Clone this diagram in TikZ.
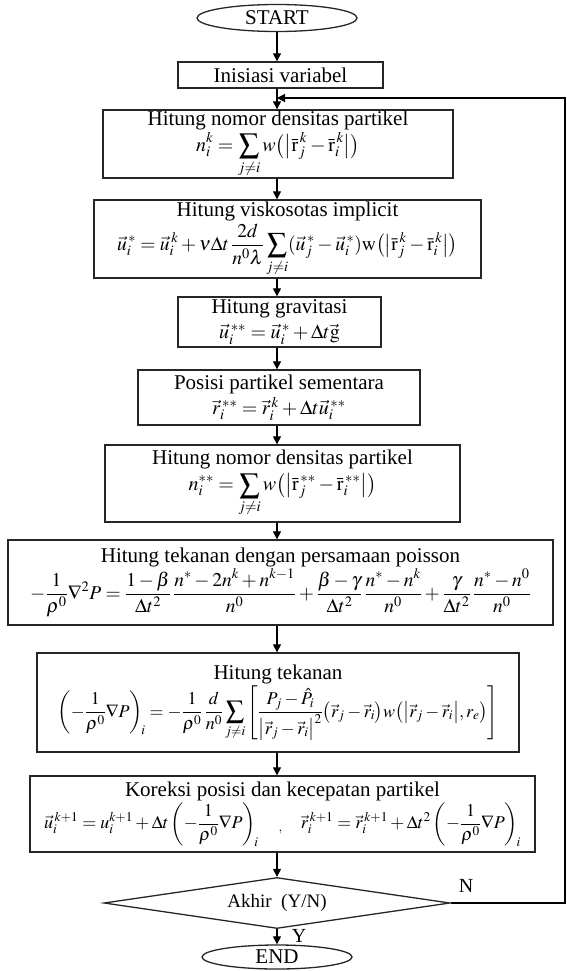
\documentclass[tikz,border=0pt]{standalone}
\usepackage{mathptmx}
\usepackage{amsmath}
\usepackage[no-math]{fontspec}
\setmainfont{Liberation Serif}
\usetikzlibrary{shapes.geometric,arrows.meta}
\newcommand{\ttl}{\fontsize{21}{24}\selectfont}
\newcommand{\mth}[1]{\fontsize{#1}{#1}\selectfont}
\begin{document}
\begin{tikzpicture}[x=1pt,y=-1pt,
  box/.style={draw=black!85, line width=1.3pt, rectangle, align=center, inner sep=0pt, font=\ttl},
  term/.style={draw=black!85, line width=1.3pt, ellipse, inner sep=0pt, font=\fontsize{21}{24}\selectfont},
  decbox/.style={draw=black!85, line width=1.3pt, diamond, aspect=6.8, inner sep=0pt, font=\fontsize{19}{22}\selectfont},
  arr/.style={line width=1.2pt, -{Triangle[length=8pt,width=8pt]}},
  lbl/.style={font=\fontsize{20}{24}\selectfont, inner sep=0pt}]
\useasboundingbox (0,0) rectangle (566,971);

\node[term, minimum width=160, minimum height=27] (start) at (277,18) {START};
\node[box, minimum width=205, minimum height=26] (init) at (280.5,75) {Inisiasi variabel};
\node[box, minimum width=350, minimum height=68] (dens1) at (278,144)
  {Hitung nomor densitas partikel\\[2pt]
   \mth{20}$\displaystyle n_i^k=\sum\limits_{j\neq i} w\bigl(\bigl|\bar{\mathrm{r}}_j^{\,k}-\bar{\mathrm{r}}_i^{\,k}\bigr|\bigr)$};
\node[box, minimum width=387, minimum height=78] (visk) at (287.5,239)
  {Hitung viskosotas implicit\\[2pt]
   \mth{19.5}$\displaystyle \vec{u}_i^{\,*}=\vec{u}_i^{\,k}+\nu\Delta t\,\frac{2d}{n^0\lambda}\sum\limits_{j\neq i}(\vec{u}_j^{\,*}-\vec{u}_i^{\,*})\mathrm{w}\bigl(\bigl|\bar{\mathrm{r}}_j^{\,k}-\bar{\mathrm{r}}_i^{\,k}\bigr|\bigr)$};
\node[box, minimum width=203, minimum height=50] (grav) at (279.5,322)
  {Hitung gravitasi\\[1pt]
   \mth{20}$\vec{u}_i^{\,**}=\vec{u}_i^{\,*}+\Delta t\vec{\mathrm{g}}$};
\node[box, minimum width=282, minimum height=55] (pos) at (279,397.5)
  {Posisi partikel sementara\\[1pt]
   \mth{20}$\vec{r}_i^{\,**}=\vec{r}_i^{\,k}+\Delta t\vec{u}_i^{\,**}$};
\node[box, minimum width=355, minimum height=77] (dens2) at (282.5,483.5)
  {Hitung nomor densitas partikel\\[2pt]
   \mth{20}$\displaystyle n_i^{**}=\sum\limits_{j\neq i} w\bigl(\bigl|\bar{\mathrm{r}}_j^{\,**}-\bar{\mathrm{r}}_i^{\,**}\bigr|\bigr)$};
\node[box, minimum width=545, minimum height=85] (pois) at (280.5,582.5)
  {Hitung tekanan dengan persamaan poisson\\[1pt]
   \mth{19.5}$\displaystyle -\frac{1}{\rho^0}\nabla^2P=\frac{1-\beta}{\Delta t^2}\,\frac{n^*-2n^k+n^{k-1}}{n^0}+\frac{\beta-\gamma}{\Delta t^2}\,\frac{n^*-n^k}{n^0}+\frac{\gamma}{\Delta t^2}\,\frac{n^*-n^0}{n^0}$};
\node[box, minimum width=482, minimum height=99] (tek) at (278,702.5)
  {Hitung tekanan\\[1pt]
   \mth{18}$\displaystyle \left(-\frac{1}{\rho^0}\nabla P\right)_{\!i}=-\frac{1}{\rho^0}\,\frac{d}{n^0}\sum\limits_{j\neq i}\left[\frac{P_j-\hat{P}_i}{\left|\vec{r}_j-\vec{r}_i\right|^2}\bigl(\vec{r}_j-\vec{r}_i\bigr)w\bigl(\bigl|\vec{r}_j-\vec{r}_i\bigr|,r_e\bigr)\right]$};
\node[box, minimum width=505, minimum height=76] (kor) at (282.5,814)
  {Koreksi posisi dan kecepatan partikel\\[1pt]
   \mth{18}$\displaystyle \vec{u}_i^{\,k+1}=u_i^{k+1}+\Delta t\left(-\frac{1}{\rho^0}\nabla P\right)_{\!i}\quad{}_{,}\quad \vec{r}_i^{\,k+1}=\vec{r}_i^{\,k+1}+\Delta t^2\left(-\frac{1}{\rho^0}\nabla P\right)_{\!i}$};
\node[decbox, minimum width=346, minimum height=51] (dec) at (277,903) {Akhir\ \ (Y/N)};
\node[term, minimum width=150, minimum height=24] (end) at (277,957) {END};

\node[lbl] (nlab) at (466,886) {N};
\node[lbl] (ylab) at (299,936) {Y};

\coordinate (loopin) at (277,98);
\coordinate (rb) at (565,903);
\coordinate (rt) at (565,98);

\draw[arr] (start.south) -- (start.south |- init.north);
\draw[line width=1.2pt] (init.south -| start) -- (loopin);
\draw[arr] (loopin) -- (dens1.north -| start);
\draw[arr] (dens1.south -| start) -- (visk.north -| start);
\draw[arr] (visk.south -| start) -- (grav.north -| start);
\draw[arr] (grav.south -| start) -- (pos.north -| start);
\draw[arr] (pos.south -| start) -- (dens2.north -| start);
\draw[arr] (dens2.south -| start) -- (pois.north -| start);
\draw[arr] (pois.south -| start) -- (tek.north -| start);
\draw[arr] (tek.south -| start) -- (kor.north -| start);
\draw[arr] (kor.south -| start) -- (dec.north);
\draw[arr] (dec.south) -- (end.north);
\draw[arr] (dec.east) -- (rb) -- (rt) -- (loopin);
\end{tikzpicture}
\end{document}
